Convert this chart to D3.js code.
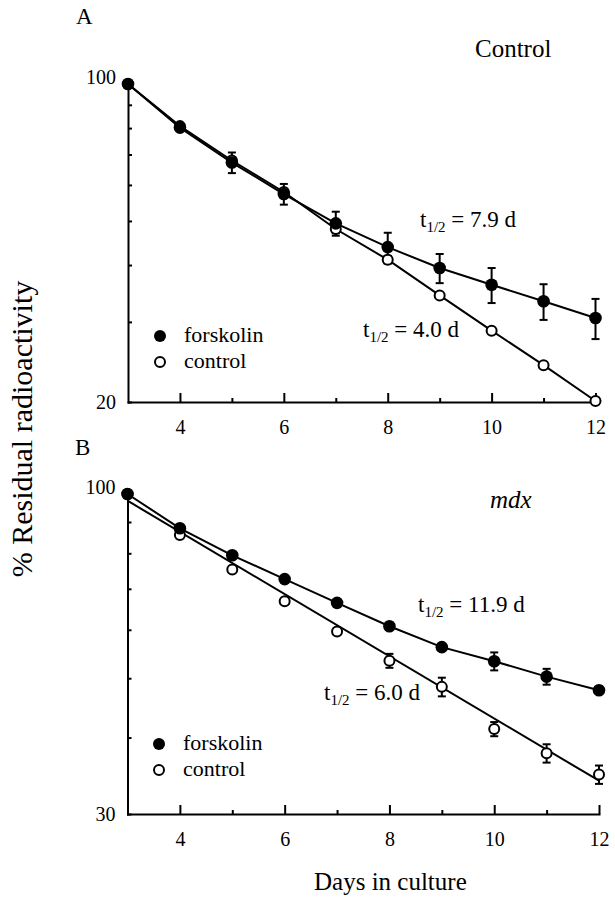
<!DOCTYPE html>
<html>
<head>
<meta charset="utf-8">
<script src="https://cdn.jsdelivr.net/npm/d3@7"></script>
<style>
  html, body { margin: 0; padding: 0; background: #fff; }
  svg { display: block; }
  text { font-family: "Liberation Serif", "Times New Roman", serif; fill: #000; }
</style>
</head>
<body>
<svg id="chart" width="615" height="900"></svg>
<script>
// ---------------- DATA ----------------
const days = [3, 4, 5, 6, 7, 8, 9, 10, 11, 12];

// Panel A (Control)
const aForskolin    = [100, 80.2, 67.2, 57.3, 49.4, 43.8, 39.4, 36.2, 33.3, 30.6];
const aForskolinErr = [0, 1.0, 3.5, 3.0, 3.0, 3.3, 2.9, 3.2, 3.0, 3.1];
const aControl      = [100, 80.8, 67.9, 57.9, 48.0, 41.1, 34.3, 28.7, 24.1, 20.1];
const aControlErr   = [0, 0, 0, 0, 1.0, 0.8, 0, 0, 0, 0];

// Panel B (mdx)
const bForskolin    = [100, 87.9, 79.4, 72.6, 66.4, 60.8, 56.2, 53.3, 50.3, 47.8];
const bForskolinErr = [0, 0, 0, 0, 0, 0, 0, 1.8, 1.5, 0];
const bControl      = [100, 85.7, 75.3, 66.8, 59.6, 53.4, 48.4, 41.3, 37.7, 34.8];
const bControlErr   = [0, 0, 0, 0, 0, 1.4, 1.7, 1.1, 1.3, 1.2];
const bControlFitDays = [3, 12];
const bControlFit     = [97.5, 34.0];

// Ticks
const xTicks      = [4, 5, 6, 7, 8, 9, 10, 11, 12];
const xTickLabels = [4, 6, 8, 10, 12];
const aYTicks  = [20, 30, 40, 50, 60, 70, 80, 90, 100];
const aYLabels = [20, 100];
const bYTicks  = [30, 40, 50, 60, 70, 80, 90, 100];
const bYLabels = [30, 100];

// ---------------- DRAW ----------------
const svg = d3.select("#chart");

function panel(cfg) {
  const x = d3.scaleLinear().domain([3, 12]).range(cfg.xRange);
  const y = d3.scaleLog().domain(cfg.yDomain).range(cfg.yRange);
  const g = svg.append("g");

  // Y axis (inward ticks)
  const yAxis = d3.axisLeft(y)
    .tickValues(cfg.yTicks)
    .tickSizeInner(-4).tickSizeOuter(0).tickPadding(12)
    .tickFormat(d => cfg.yLabels.includes(d) ? d3.format("d")(d) : "");
  const ya = g.append("g").attr("transform", `translate(${cfg.xRange[0]},0)`).call(yAxis);
  ya.select(".domain").attr("stroke-width", 2).attr("stroke-linecap", "square");
  ya.selectAll(".tick line").attr("stroke-width", 2);
  ya.selectAll(".tick text")
    .attr("font-size", 20)
    .attr("font-family", "Liberation Serif, Times New Roman, serif")
    .attr("dy", d => d === cfg.yDomain[1] ? "-0.02em" : "0.3em");

  // X axis (inward ticks)
  const xAxis = d3.axisBottom(x)
    .tickValues(xTicks)
    .tickSizeInner(-9).tickSizeOuter(0).tickPadding(18)
    .tickFormat(d => xTickLabels.includes(d) ? d3.format("d")(d) : "");
  const xa = g.append("g").attr("transform", `translate(0,${cfg.yRange[0]})`).call(xAxis);
  xa.select(".domain").attr("stroke-width", 2).attr("stroke-linecap", "square");
  xa.selectAll(".tick line").attr("stroke-width", 2)
    .attr("y2", d => xTickLabels.includes(d) ? -9 : -4);
  xa.selectAll(".tick text")
    .attr("font-size", 20)
    .attr("font-family", "Liberation Serif, Times New Roman, serif");

  const line = d3.line().x(d => x(d[0])).y(d => y(d[1]));

  // Lines
  cfg.lines.forEach(L => {
    g.append("path").datum(L).attr("d", line)
      .attr("fill", "none").attr("stroke", "#000").attr("stroke-width", 2);
  });

  // Error bars
  const drawErr = (vals, errs) => {
    days.forEach((d, i) => {
      const e = errs[i];
      if (!e) return;
      const cx = x(d), y1 = y(vals[i] + e), y2 = y(vals[i] - e);
      g.append("line").attr("x1", cx).attr("x2", cx).attr("y1", y1).attr("y2", y2)
        .attr("stroke", "#000").attr("stroke-width", 2);
      [y1, y2].forEach(yy => g.append("line")
        .attr("x1", cx - 4).attr("x2", cx + 4).attr("y1", yy).attr("y2", yy)
        .attr("stroke", "#000").attr("stroke-width", 2));
    });
  };
  drawErr(cfg.control, cfg.controlErr);
  drawErr(cfg.forskolin, cfg.forskolinErr);

  // Points: open (control) first, filled (forskolin) on top
  g.selectAll(".open").data(days.map((d, i) => [d, cfg.control[i]])).join("circle")
    .attr("cx", d => x(d[0])).attr("cy", d => y(d[1])).attr("r", 5)
    .attr("fill", "#fff").attr("stroke", "#000").attr("stroke-width", 2);
  g.selectAll(".filled").data(days.map((d, i) => [d, cfg.forskolin[i]])).join("circle")
    .attr("cx", d => x(d[0])).attr("cy", d => y(d[1])).attr("r", 6.3)
    .attr("fill", "#000");

  // Legend
  const lg = cfg.legend;
  g.append("circle").attr("cx", lg.x).attr("cy", lg.y).attr("r", 6).attr("fill", "#000");
  g.append("text").attr("x", lg.x + 24).attr("y", lg.y + 6).attr("font-size", 22).text("forskolin");
  g.append("circle").attr("cx", lg.x).attr("cy", lg.y + 26).attr("r", 5)
    .attr("fill", "#fff").attr("stroke", "#000").attr("stroke-width", 2);
  g.append("text").attr("x", lg.x + 24).attr("y", lg.y + 32).attr("font-size", 22).text("control");

  // Half-life annotations
  cfg.notes.forEach(n => {
    const t = g.append("text").attr("x", n.x).attr("y", n.y).attr("font-size", 23);
    t.append("tspan").text("t");
    t.append("tspan").attr("font-size", 15).attr("dy", 5).text("1/2");
    t.append("tspan").attr("dy", -5).text(" = " + n.value + " d");
  });

  // Panel letter and title
  g.append("text").attr("x", cfg.letter.x).attr("y", cfg.letter.y).attr("font-size", 23).text(cfg.letter.t);
  g.append("text").attr("x", cfg.title.x).attr("y", cfg.title.y).attr("font-size", 25)
    .attr("font-style", cfg.title.italic ? "italic" : "normal").text(cfg.title.t);
}

panel({
  xRange: [128, 595.5], yDomain: [20, 100], yRange: [402, 84],
  yTicks: aYTicks, yLabels: aYLabels,
  forskolin: aForskolin, forskolinErr: aForskolinErr,
  control: aControl, controlErr: aControlErr,
  lines: [days.map((d, i) => [d, aForskolin[i]]), days.map((d, i) => [d, aControl[i]])],
  legend: { x: 160, y: 336 },
  notes: [{ x: 420, y: 227, value: "7.9" }, { x: 363, y: 337, value: "4.0" }],
  letter: { x: 76, y: 24, t: "A" },
  title: { x: 475, y: 57, t: "Control", italic: false }
});

panel({
  xRange: [127.5, 599], yDomain: [30, 100], yRange: [814, 494],
  yTicks: bYTicks, yLabels: bYLabels,
  forskolin: bForskolin, forskolinErr: bForskolinErr,
  control: bControl, controlErr: bControlErr,
  lines: [days.map((d, i) => [d, bForskolin[i]]), bControlFitDays.map((d, i) => [d, bControlFit[i]])],
  legend: { x: 159, y: 744 },
  notes: [{ x: 418, y: 612, value: "11.9" }, { x: 324, y: 700, value: "6.0" }],
  letter: { x: 75, y: 455, t: "B" },
  title: { x: 490, y: 508, t: "mdx", italic: true }
});

// Shared axis titles
svg.append("text").attr("x", 314).attr("y", 890).attr("font-size", 25).text("Days in culture");
svg.append("text")
  .attr("transform", "translate(32,429) rotate(-90)")
  .attr("text-anchor", "middle").attr("font-size", 30)
  .text("% Residual radioactivity");
</script>
</body>
</html>
